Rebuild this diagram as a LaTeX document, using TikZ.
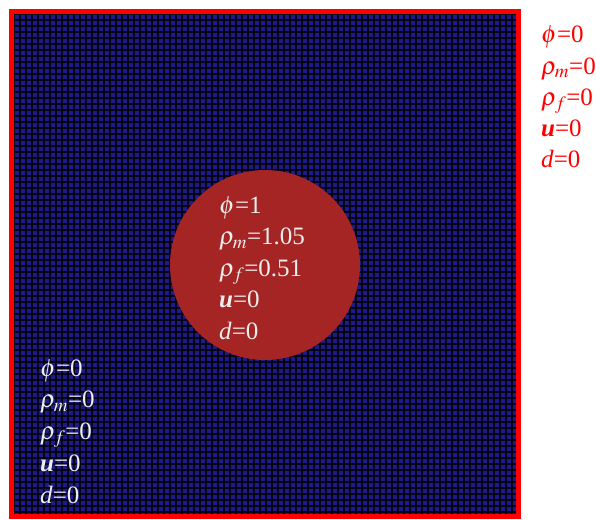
\documentclass[tikz,border=0pt]{standalone}
\usepackage{amsmath}
\usepackage{mathptmx}
\usepackage{fontspec}
\setmainfont{Liberation Serif}
\DeclareMathSizes{25}{25}{19}{15}
\usepackage{tikz}
\usetikzlibrary{positioning}
\definecolor{meshblue}{RGB}{30, 26, 135}
\definecolor{inclusionred}{RGB}{165, 36, 36}
\definecolor{borderred}{RGB}{255, 0, 0}
\definecolor{labelwhite}{RGB}{238, 238, 238}
\tikzset{
  fieldlabel/.style={anchor=base west, inner sep=0pt, font=\fontsize{25}{28}\selectfont},
  meshline/.style={black, opacity=0.8, line width=1.1pt}
}

\begin{document}
\begin{tikzpicture}[x=1pt, y=-1pt]
        \useasboundingbox (0,0) rectangle (596,519);

        % Matrix domain (mesh)
        \fill[meshblue] (14,14) rectangle (517,516);
        \foreach \i in {0,...,84}{
          \draw[meshline] ({14+6*\i},14) -- ({14+6*\i},516);
          \draw[meshline] (14,{14+6*\i}) -- (517,{14+6*\i});
        }

        % Inclusion
        \fill[inclusionred] (265,265) circle (95);

        % Boundary
        \draw[borderred, line width=5pt] (11.5,11.5) rectangle (518.5,516.5);

        % Boundary values
        \foreach \txt [count=\k] in {$\phi$=0, $\rho_m$=0, $\rho_f$=0, \textbf{\textit{u}}=0, \textit{d}=0}{
          \node[fieldlabel, text=borderred] (bound\k) at (541,{43+31.2*(\k-1)}) {\txt};
        }

        % Inclusion values
        \foreach \txt [count=\k] in {$\phi$=1, $\rho_m$=1.05, $\rho_f$=0.51, \textbf{\textit{u}}=0, \textit{d}=0}{
          \node[fieldlabel, text=labelwhite] (incl\k) at (219,{213+31.5*(\k-1)}) {\txt};
        }

        % Matrix values
        \foreach \txt [count=\k] in {$\phi$=0, $\rho_m$=0, $\rho_f$=0, \textbf{\textit{u}}=0, \textit{d}=0}{
          \node[fieldlabel, text=labelwhite] (matrix\k) at (40,{376+31.8*(\k-1)}) {\txt};
        }
      \end{tikzpicture}
\end{document}
